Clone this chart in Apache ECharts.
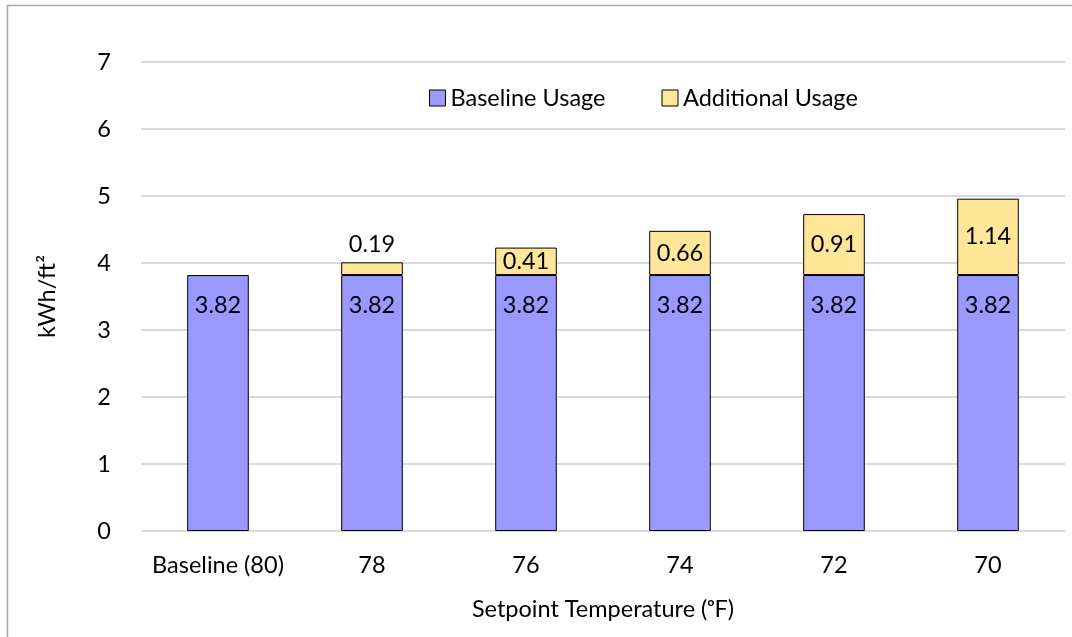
<!DOCTYPE html>
<html><head><meta charset="utf-8">
<script src="https://cdn.jsdelivr.net/npm/echarts@6/dist/echarts.min.js"></script>
<style>html,body{margin:0;padding:0;background:#fff}#c{width:1072px;height:637px}</style>
</head><body><div id="c"></div>
<script>
const categories = ['Baseline (80)', '78', '76', '74', '72', '70'];
const baselineUsage = [3.82, 3.82, 3.82, 3.82, 3.82, 3.82];
const additionalUsage = [null, 0.19, 0.41, 0.66, 0.91, 1.14];
const yTicks = [0, 1, 2, 3, 4, 5, 6, 7];

const FONT = 'Lato, "Open Sans", sans-serif';
const FS = 23.5;
const chart = echarts.init(document.getElementById('c'), null, {renderer: 'canvas'});
chart.setOption({
  animation: false,
  textStyle: {fontFamily: FONT},
  graphic: [{type: 'rect', shape: {x: 7.5, y: 5.5, width: 1080, height: 650}, style: {fill: 'none', stroke: '#a6a6a6', lineWidth: 1.5}}],
  legend: {
    top: 81, left: 424, itemGap: 56, itemWidth: 16, itemHeight: 16,
    icon: 'rect',
    textStyle: {fontSize: FS, color: '#000', fontFamily: FONT},
    data: [
      {name: 'Baseline Usage', itemStyle: {borderColor: '#000', borderWidth: 1}},
      {name: 'Additional Usage', itemStyle: {borderColor: '#000', borderWidth: 1}}
    ]
  },
  grid: {left: 141, right: 7, top: 62, bottom: 106, containLabel: false},
  xAxis: {
    type: 'category', data: categories,
    axisLine: {show: false}, axisTick: {show: false},
    axisLabel: {fontSize: FS, color: '#000', margin: 22, interval: 0, fontFamily: FONT},
    name: 'Setpoint Temperature (\u1d52F)', nameLocation: 'middle', nameGap: 66,
    nameTextStyle: {fontSize: FS, color: '#000', fontFamily: FONT}
  },
  yAxis: {
    type: 'value', min: yTicks[0], max: yTicks[yTicks.length - 1], interval: 1,
    axisLine: {show: false}, axisTick: {show: false},
    axisLabel: {fontSize: FS, color: '#000', margin: 30, fontFamily: FONT},
    splitLine: {lineStyle: {color: '#d9d9d9', width: 2}},
    name: 'kWh/ft\u00b2', nameLocation: 'middle', nameGap: 82, nameRotate: 90,
    nameTextStyle: {fontSize: FS, color: '#000', fontFamily: FONT}
  },
  series: [
    {
      name: 'Baseline Usage', type: 'bar', stack: 's', barWidth: '40%',
      data: baselineUsage,
      itemStyle: {color: '#9999ff', borderColor: '#000', borderWidth: 1},
      label: {show: true, position: 'insideTop', distance: 18, fontSize: FS, color: '#000', fontFamily: FONT,
        formatter: p => p.value.toFixed(2)}
    },
    {
      name: 'Additional Usage', type: 'bar', stack: 's', barWidth: '40%',
      data: additionalUsage.map(v => v == null ? null : {
        value: v,
        label: v < 0.3 ? {position: 'top', distance: 6} : {position: 'inside'}
      }),
      itemStyle: {color: '#ffe699', borderColor: '#000', borderWidth: 1},
      label: {show: true, fontSize: FS, color: '#000', fontFamily: FONT,
        formatter: p => p.value.toFixed(2)}
    }
  ]
});
</script></body></html>
